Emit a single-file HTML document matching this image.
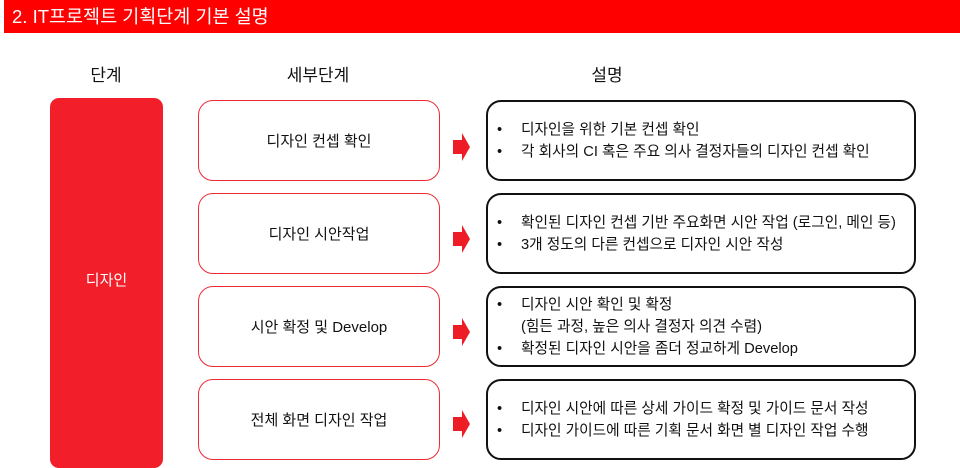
<!DOCTYPE html>
<html><head><meta charset="utf-8"><style>
*{margin:0;padding:0;box-sizing:border-box}
body{width:960px;height:460px;background:#fff;position:relative;overflow:hidden;font-family:"Liberation Sans","Noto Sans CJK KR",sans-serif;color:#111}
.bar{position:absolute;left:4px;top:0;width:956px;height:33px;background:#ff0000;color:#fff;font-size:18.5px;line-height:33px;padding-left:8px}
.h{position:absolute;top:61px;font-size:17px;text-align:center}
.stage{position:absolute;left:50px;top:98px;width:113px;height:370px;background:#f21f2b;border-radius:9px;color:#fff;font-size:15px;display:flex;align-items:center;justify-content:center;padding-bottom:8px}
.sub{position:absolute;left:198px;width:242px;height:81px;border:1.5px solid #ef2a34;border-radius:15px;display:flex;align-items:center;justify-content:center;font-size:15px}
.desc{position:absolute;left:486px;width:430px;height:81px;border:2px solid #111;border-radius:15px;font-size:14.7px;line-height:22px;display:flex;flex-direction:column;justify-content:center;padding-left:9px}
.desc div{position:relative;padding-left:24px}
.desc .b:before{content:"•";position:absolute;left:0}
svg.ar{position:absolute;left:452px;width:19px;height:28px}
</style></head><body>
<div class="bar">2. IT프로젝트 기획단계 기본 설명</div>
<div class="h" style="left:66px;width:80px">단계</div>
<div class="h" style="left:278px;width:80px">세부단계</div>
<div class="h" style="left:567px;width:80px">설명</div>
<div class="stage">디자인</div>

<div class="sub" style="top:100px">디자인 컨셉 확인</div>
<div class="sub" style="top:193px">디자인 시안작업</div>
<div class="sub" style="top:286px">시안 확정 및 Develop</div>
<div class="sub" style="top:379px">전체 화면 디자인 작업</div>

<svg class="ar" style="top:133px" viewBox="0 0 19 28"><polygon points="1,7 10,7 10,0 18,14 10,28 10,21 1,21" fill="#ee1c25"/></svg>
<svg class="ar" style="top:225px" viewBox="0 0 19 28"><polygon points="1,7 10,7 10,0 18,14 10,28 10,21 1,21" fill="#ee1c25"/></svg>
<svg class="ar" style="top:318px" viewBox="0 0 19 28"><polygon points="1,7 10,7 10,0 18,14 10,28 10,21 1,21" fill="#ee1c25"/></svg>
<svg class="ar" style="top:410px" viewBox="0 0 19 28"><polygon points="1,7 10,7 10,0 18,14 10,28 10,21 1,21" fill="#ee1c25"/></svg>

<div class="desc" style="top:100px"><div class="b">디자인을 위한 기본 컨셉 확인</div><div class="b">각 회사의 CI 혹은 주요 의사 결정자들의 디자인 컨셉 확인</div></div>
<div class="desc" style="top:193px"><div class="b">확인된 디자인 컨셉 기반 주요화면 시안 작업 (로그인, 메인 등)</div><div class="b">3개 정도의 다른 컨셉으로 디자인 시안 작성</div></div>
<div class="desc" style="top:286px"><div class="b">디자인 시안 확인 및 확정</div><div>(힘든 과정, 높은 의사 결정자 의견 수렴)</div><div class="b">확정된 디자인 시안을 좀더 정교하게 Develop</div></div>
<div class="desc" style="top:379px"><div class="b">디자인 시안에 따른 상세 가이드 확정 및 가이드 문서 작성</div><div class="b">디자인 가이드에 따른 기획 문서 화면 별 디자인 작업 수행</div></div>
</body></html>
